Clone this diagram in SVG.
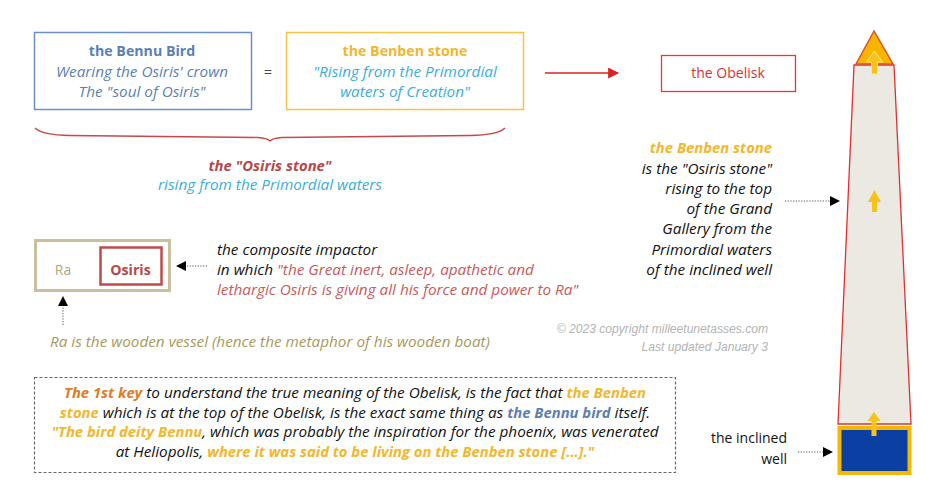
<svg xmlns="http://www.w3.org/2000/svg" width="947" height="499" viewBox="0 0 947 499">
<style>
text{font-family:"Open Sans","Noto Sans",sans-serif;font-size:14px}
.i{font-style:italic;font-size:15.3px}
.b{font-weight:bold;font-size:14.2px}
.b.i,.i .b{font-size:14.8px}
.c{text-anchor:middle}
.r{text-anchor:end}
.blue{fill:#5b7fb5}
.yel{fill:#f2b72c}
.cyan{fill:#3aaed8}
.dred{fill:#b54848}
.lred{fill:#c85a5a}
.tan{fill:#b3a87f}
.olive{fill:#a8995c}
.blk{fill:#111}
.gray{font-family:"Liberation Sans",Arial,sans-serif;font-size:12.1px;fill:#b3b3b3;font-style:italic}
.dot{stroke:#555;stroke-width:1;stroke-dasharray:1.2 1.5;fill:none}
.yarrow{fill:#f7c21a}
</style>
<defs>
<marker id="ab" viewBox="0 0 10 10" refX="9" refY="5" markerWidth="10" markerHeight="10" markerUnits="userSpaceOnUse" orient="auto"><path d="M0,0 L10,5 L0,10 Z" fill="#000"/></marker>
<marker id="ar" viewBox="0 0 10 10" refX="9" refY="5" markerWidth="11" markerHeight="11" markerUnits="userSpaceOnUse" orient="auto"><path d="M0,0 L10,5 L0,10 Z" fill="#e02020"/></marker>
</defs>

<g id="bennu">
<rect x="34.5" y="32.5" width="217" height="77" fill="#fff" stroke="#6b8fc6" stroke-width="1.5"/>
<text x="142" y="56" class="c b blue">the Bennu Bird</text>
<text x="142" y="77" class="c i blue">Wearing the Osiris' crown</text>
<text x="142" y="97" class="c i blue">The "soul of Osiris"</text>
</g>
<g id="equals"><text x="268" y="77" class="c" fill="#444">=</text></g>
<g id="benben">
<rect x="286.5" y="32.5" width="237" height="77" fill="#fff" stroke="#f6c445" stroke-width="1.5"/>
<text x="405" y="56" class="c b yel">the Benben stone</text>
<text x="405" y="77" class="c i cyan">"Rising from the Primordial</text>
<text x="405" y="97" class="c i cyan">waters of Creation"</text>
</g>
<g id="obelisk-label">
<rect x="661.5" y="55.5" width="134" height="36" fill="#fff" stroke="#e03a3a" stroke-width="1.3"/>
<text x="728" y="78" class="c" fill="#e03030">the Obelisk</text>
</g>
<g id="osiris-stone">
<path d="M35,128 Q42,135 70,135.5 L258,137.5 Q267,138 270,141 Q273,138 282,137.5 L470,135.5 Q498,135 505,128" fill="none" stroke="#c84848" stroke-width="1.3"/>
<text x="270" y="171" class="c b i dred">the "Osiris stone"</text>
<text x="270" y="190" class="c i cyan">rising from the Primordial waters</text>
</g>
<g id="ra-osiris">
<rect x="35.5" y="240.5" width="134" height="50" fill="#fff" stroke="#c9bf9c" stroke-width="3"/>
<text x="63" y="275" class="c tan">Ra</text>
<rect x="100.5" y="247.5" width="61" height="37" fill="#fff" stroke="#c04a4a" stroke-width="2.5"/>
<text x="130.5" y="275" class="c b dred">Osiris</text>
</g>
<g id="impactor-text">
<text x="217" y="255" class="i blk">the composite impactor</text>
<text x="217" y="275" class="i"><tspan class="blk">in which </tspan><tspan class="lred">"the Great inert, asleep, apathetic and</tspan></text>
<text x="217" y="295" class="i lred">lethargic Osiris is giving all his force and power to Ra"</text>
</g>
<g id="ra-text"><text x="50" y="347" class="i olive">Ra is the wooden vessel (hence the metaphor of his wooden boat)</text></g>
<g id="copyright">
<text x="768" y="333" class="r gray">© 2023 copyright milleetunetasses.com</text>
<text x="768" y="351" class="r gray">Last updated January 3</text>
</g>
<g id="benben-text">
<text x="772" y="153" class="r b i yel">the Benben stone</text>
<text x="772" y="174" class="r i blk">is the "Osiris stone"</text>
<text x="772" y="194" class="r i blk">rising to the top</text>
<text x="772" y="214" class="r i blk">of the Grand</text>
<text x="772" y="234" class="r i blk">Gallery from the</text>
<text x="772" y="255" class="r i blk">Primordial waters</text>
<text x="772" y="275" class="r i blk">of the inclined well</text>
</g>
<g id="well-text">
<text x="787" y="443" class="r blk">the inclined</text>
<text x="787" y="464" class="r blk">well</text>
</g>
<g id="key-box">
<rect x="34.5" y="377.5" width="641" height="95" fill="none" stroke="#666" stroke-width="1.2" stroke-dasharray="3 2"/>
<text x="355" y="398" class="c i blk"><tspan class="b" fill="#e07b22">The 1st key</tspan> to understand the true meaning of the Obelisk, is the fact that <tspan class="b yel">the Benben</tspan></text>
<text x="355" y="418" class="c i blk"><tspan class="b yel">stone</tspan> which is at the top of the Obelisk, is the exact same thing as <tspan class="b blue">the Bennu bird</tspan> itself.</text>
<text x="355" y="437" class="c i blk"><tspan class="b yel">"The bird deity Bennu</tspan>, which was probably the inspiration for the phoenix, was venerated</text>
<text x="355" y="457" class="c i blk">at Heliopolis, <tspan class="b yel">where it was said to be living on the Benben stone […]."</tspan></text>
</g>
<g id="obelisk">
<polygon points="854,65 894,65 911,424 838,424" fill="#ebe9e1" stroke="#e03030" stroke-width="1.3"/>
<polygon points="874,31 856,64 893,64" fill="#f7b500" stroke="#e0502a" stroke-width="1.5"/>
<rect x="839.5" y="428" width="70" height="45" fill="#0b3fa2" stroke="#f5b800" stroke-width="4"/>
<polygon points="874.5,51 882.5,62 877.5,62 877.5,74 871.5,74 871.5,62 866.5,62" class="yarrow" stroke="#fde58c" stroke-width="1"/>
<polygon points="874.5,190 881,202 877,202 877,212 872,212 872,202 868,202" class="yarrow"/>
<polygon points="874,412 880.5,421 876.5,421 876.5,436 871.5,436 871.5,421 867.5,421" class="yarrow"/>
</g>
<g id="connectors">
<line x1="545" y1="73" x2="618" y2="73" stroke="#e02020" stroke-width="1.5" marker-end="url(#ar)"/>
<line x1="207" y1="266" x2="186" y2="266" class="dot"/>
<path d="M186,266 L177,266" stroke="none" marker-end="url(#ab)"/>
<line x1="63" y1="325" x2="63" y2="306" class="dot"/>
<path d="M63,306 L63,297" stroke="none" marker-end="url(#ab)"/>
<line x1="785" y1="201" x2="830" y2="201" class="dot"/>
<path d="M830,201 L839,201" stroke="none" marker-end="url(#ab)"/>
<line x1="798" y1="452" x2="823" y2="452" class="dot"/>
<path d="M823,452 L832,452" stroke="none" marker-end="url(#ab)"/>
</g>
</svg>
